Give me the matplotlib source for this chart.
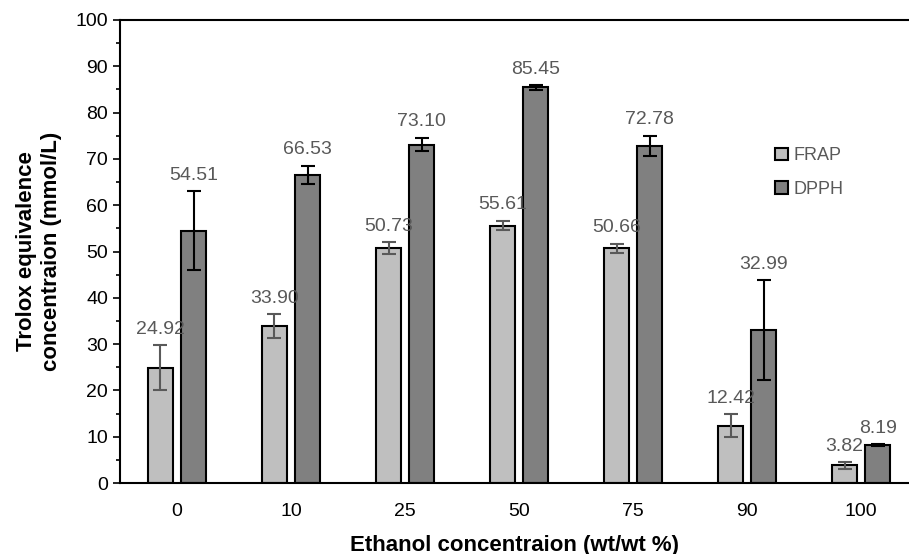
import matplotlib
matplotlib.use('Agg')
import matplotlib.pyplot as plt
import numpy as np

plt.rcParams['font.family'] = ['Liberation Sans', 'DejaVu Sans']

# 数据
ethanol = ['0', '10', '25', '50', '75', '90', '100']
frap = [24.92, 33.90, 50.73, 55.61, 50.66, 12.42, 3.82]
frap_err = [4.9, 2.6, 1.3, 1.0, 1.0, 2.4, 0.7]
dpph = [54.51, 66.53, 73.10, 85.45, 72.78, 32.99, 8.19]
dpph_err = [8.5, 2.0, 1.5, 0.5, 2.2, 10.8, 0.25]

fig = plt.figure(figsize=(9.09, 5.54), dpi=100)
ax = fig.add_axes([0.132, 0.128, 0.868, 0.836])

x = np.arange(len(ethanol))
w = 0.22
off = 0.145
ax.bar(x - off, frap, w, color='#bfbfbf', edgecolor='black', linewidth=1.5, label='FRAP', zorder=2)
ax.bar(x + off, dpph, w, color='#808080', edgecolor='black', linewidth=1.5, label='DPPH', zorder=2)
ax.errorbar(x - off, frap, yerr=frap_err, fmt='none', ecolor='#595959', elinewidth=1.5, capsize=5, capthick=1.5, zorder=3)
ax.errorbar(x + off, dpph, yerr=dpph_err, fmt='none', ecolor='black', elinewidth=1.5, capsize=5, capthick=1.5, zorder=3)

# 数值标签
for xi, v, e in zip(x - off, frap, frap_err):
    ax.text(xi, v + e + 1.6, '%.2f' % v, ha='center', va='bottom', fontsize=14, color='#595959')
for xi, v, e in zip(x + off, dpph, dpph_err):
    ax.text(xi, v + e + 1.6, '%.2f' % v, ha='center', va='bottom', fontsize=14, color='#595959')

ax.set_xlim(-0.5, 6.42)
ax.set_ylim(0, 100)
ax.set_yticks(range(0, 101, 10))
ax.set_yticks(range(5, 100, 10), minor=True)
ax.set_xticks(x)
ax.set_xticklabels(ethanol)
ax.tick_params(axis='y', which='major', direction='out', length=5, width=1.2, labelsize=14)
ax.tick_params(axis='y', which='minor', direction='out', length=3, width=1.2)
ax.tick_params(axis='x', length=0, labelsize=14, pad=14)

for s in ['left', 'bottom', 'top']:
    ax.spines[s].set_linewidth(1.5)
ax.spines['right'].set_visible(False)

ax.set_xlabel('Ethanol concentraion (wt/wt %)', fontsize=16, fontweight='bold', labelpad=11)
ax.set_ylabel('Trolox equivalence\nconcentraion (mmol/L)', fontsize=16, fontweight='bold', labelpad=10)

leg = ax.legend(loc='upper left', bbox_to_anchor=(0.81, 0.76), frameon=False, fontsize=13,
                handlelength=0.7, handleheight=0.7, labelspacing=0.9, handletextpad=0.3)
for t in leg.get_texts():
    t.set_color('#595959')

plt.savefig('out.png', dpi=100)
